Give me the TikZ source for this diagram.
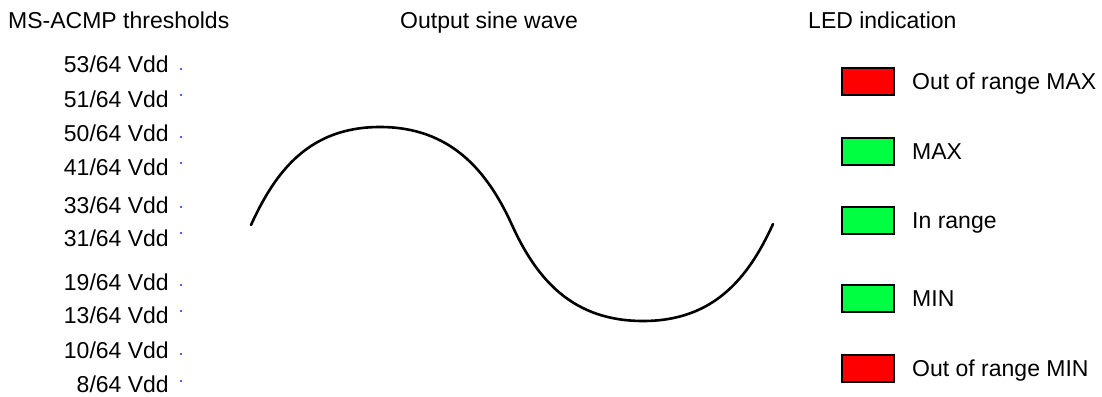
\documentclass[tikz,border=0pt]{standalone}
\usepackage{fontspec}
\setmainfont{Liberation Sans}
\definecolor{ledred}{RGB}{255,0,0}
\definecolor{ledgreen}{RGB}{0,255,64}
\definecolor{dotblue}{RGB}{90,90,255}
\tikzset{
  lbl/.style={inner sep=0pt, font=\fontsize{23}{27}\selectfont},
  thr/.style={lbl, anchor=base east},
  ttl/.style={lbl, anchor=base west},
  ledtxt/.style={lbl, anchor=base west},
  led/.style={draw=black, line width=2pt, minimum width=52pt, minimum height=27pt, inner sep=0pt},
  tick/.style={fill=dotblue, inner sep=0pt, minimum size=1.6pt},
  wave/.style={line width=2.6pt, line cap=round}
}
\begin{document}
\begin{tikzpicture}[x=1pt,y=-1pt]
\useasboundingbox (0,0) rectangle (1102,396);
% titles
\node[ttl] (t1) at (8,29) {MS-ACMP thresholds};
\node[ttl] (t2) at (400,29) {Output sine wave};
\node[ttl] (t3) at (808,29) {LED indication};
% thresholds
\foreach \n/\y/\d [count=\i] in {53/65/69, 51/99/95, 50/133/137, 41/167/163, 33/205/207, 31/238/233, 19/282/285, 13/315/311, 10/350/354, 8/384/381}{
  \node[thr] (th\i) at (169,\y+8) {\n/64 Vdd};
  \node[tick] (dot\i) at (181,\d) {};
}
% sine wave
\coordinate (w0) at (251,225);
\coordinate (w1) at (380,127);
\coordinate (w2) at (512,225);
\coordinate (w3) at (643,321);
\coordinate (w4) at (773,224);
\draw[wave] (w0) .. controls (276,170) and (310,127) .. (w1)
  .. controls (450,127) and (487,170) .. (w2)
  .. controls (537,280) and (573,321) .. (w3)
  .. controls (713,321) and (748,279) .. (w4);
% LEDs
\node[led, fill=ledred] (l1) at (867.5,81) {};
\node[led, fill=ledgreen] (l2) at (867.5,151) {};
\node[led, fill=ledgreen] (l3) at (867.5,220) {};
\node[led, fill=ledgreen] (l4) at (867.5,298) {};
\node[led, fill=ledred] (l5) at (867.5,368) {};
\node[ledtxt] (lt1) at (912,89) {Out of range MAX};
\node[ledtxt] (lt2) at (912,159) {MAX};
\node[ledtxt] (lt3) at (912,228) {In range};
\node[ledtxt] (lt4) at (912,306) {MIN};
\node[ledtxt] (lt5) at (912,376) {Out of range MIN};
\end{tikzpicture}
\end{document}
